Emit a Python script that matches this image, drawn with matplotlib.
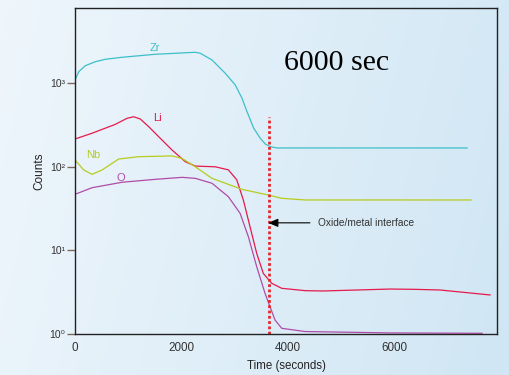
import numpy as np
import matplotlib
matplotlib.use("Agg")
import matplotlib.pyplot as plt
from matplotlib.ticker import FixedLocator, FixedFormatter, NullLocator

plt.rcParams['font.family'] = ['Liberation Sans', 'DejaVu Sans']

# ---- data ----
zr_x = [0, 70, 194, 382, 570, 883, 1509, 2261, 2355, 2575, 2825, 3013, 3139, 3233, 3359, 3483, 3577, 3671, 3797, 7368]
zr_y = [1092, 1373, 1619, 1807, 1932, 2042, 2218, 2344, 2280, 1896, 1313, 951, 659, 456, 289, 219, 187, 174, 168, 168]

li_x = [0, 320, 758, 977, 1103, 1227, 1385, 1573, 1823, 2073, 2261, 2637, 2882, 3039, 3164, 3289, 3415, 3539, 3697, 3885,
        4323, 4662, 5300, 5921, 6400, 6861, 7801]
li_y = [215, 252, 322, 380, 397, 373, 302, 229, 159, 115, 102, 100, 92, 70, 40, 19.2, 9.2, 5.3, 4.04, 3.52,
        3.30, 3.27, 3.36, 3.45, 3.42, 3.36, 2.93]

nb_x = [0, 164, 320, 508, 821, 1197, 1823, 2011, 2261, 2575, 3133, 3633, 3885, 4323, 7444]
nb_y = [121, 91.6, 81.3, 91.6, 124, 132, 135, 126, 100, 72.8, 53.8, 46, 42, 40.1, 40.1]

o_x = [0, 320, 883, 1509, 2011, 2261, 2575, 2882, 3102, 3258, 3415, 3571, 3665, 3759, 3885, 4323, 5921, 7650]
o_y = [46.9, 56.2, 65.3, 70.8, 74.8, 72.8, 63.5, 43.9, 27.8, 14.6, 6.38, 3.07, 2.12, 1.47, 1.17, 1.07, 1.03, 1.02]

interface_x = 3640
interface_top = 394

y_ticks = [1, 10, 100, 1000]
y_labels = ['10\u2070', '10\u00b9', '10\u00b2', '10\u00b3']
x_ticks = [0, 2000, 4000, 6000]
x_labels = ['0', '2000', '4000', '6000']

# ---- figure ----
W, H = 509, 375
fig = plt.figure(figsize=(W / 100, H / 100), dpi=100)

# background gradient
bg = fig.add_axes([0, 0, 1, 1], zorder=0)
gx = np.linspace(0, 1, 256)
gy = np.linspace(0, 1, 64)
GX, GY = np.meshgrid(gx, gy)
c0 = np.array([0.935, 0.965, 0.988])
c1 = np.array([0.815, 0.902, 0.957])
t = np.clip(0.85 * GX + 0.15 * (1 - GY), 0, 1)[..., None]
img = c0 * (1 - t) + c1 * t
bg.imshow(img, aspect='auto', extent=[0, 1, 0, 1], origin='lower')
bg.axis('off')

ax = fig.add_axes([75 / W, 1 - 334 / H, 422.5 / W, 326 / H], zorder=1)
ax.set_facecolor('none')
ax.set_yscale('log')
ax.set_xlim(0, 7940)
ax.set_ylim(1, 10 ** (326 / 83.6))

lw = 0.9
kw = dict(lw=lw, solid_joinstyle='round', antialiased=True)
ax.plot(zr_x, zr_y, color='#3dbfc9', **kw)
ax.plot(li_x, li_y, color='#e6194c', **kw)
ax.plot(nb_x, nb_y, color='#b6cc1e', **kw)
ax.plot(o_x, o_y, color='#b04ca8', **kw)

ax.plot([interface_x, interface_x], [1, interface_top], color='#e8262a',
        lw=2.0, dashes=(1, 0.9), solid_capstyle='butt')

ax.text(1504, 2637, 'Zr', color='#3dbfc9', fontsize=8, ha='center', va='center')
ax.text(1541, 384, 'Li', color='#e6194c', fontsize=8, ha='center', va='center')
ax.text(338, 138, 'Nb', color='#b6cc1e', fontsize=8, ha='center', va='center')
ax.text(865, 73, 'O', color='#b04ca8', fontsize=8, ha='center', va='center')

ax.text(0.62, 0.832, '6000 sec', transform=ax.transAxes, fontsize=21.5,
        family='Liberation Serif', ha='center', va='center', color='black')

ax.annotate('', xy=(0.457, 0.341), xytext=(0.556, 0.341), xycoords='axes fraction',
            arrowprops=dict(arrowstyle='-|>,head_length=0.6,head_width=0.25',
                            color='black', lw=0.8, shrinkA=0, shrinkB=0))
ax.text(0.575, 0.341, 'Oxide/metal interface', transform=ax.transAxes,
        fontsize=7.3, color='#333333', ha='left', va='center')

ax.yaxis.set_major_locator(FixedLocator(y_ticks))
ax.yaxis.set_major_formatter(FixedFormatter(y_labels))
ax.yaxis.set_minor_locator(NullLocator())
ax.xaxis.set_major_locator(FixedLocator(x_ticks))
ax.xaxis.set_major_formatter(FixedFormatter(x_labels))

ax.tick_params(axis='y', length=6, width=1.0, color='#7a6a60', labelsize=7.5,
               labelcolor='#333333', pad=1)
ax.tick_params(axis='x', length=0, labelsize=8.4, labelcolor='#333333', pad=6)

for s in ax.spines.values():
    s.set_color('#222222')
    s.set_linewidth(1.0)

ax.set_xlabel('Time (seconds)', fontsize=8.3, color='#222222', labelpad=4)
ax.set_ylabel('Counts', fontsize=8.5, color='#222222', labelpad=3)

fig.savefig('out.png', dpi=100)
